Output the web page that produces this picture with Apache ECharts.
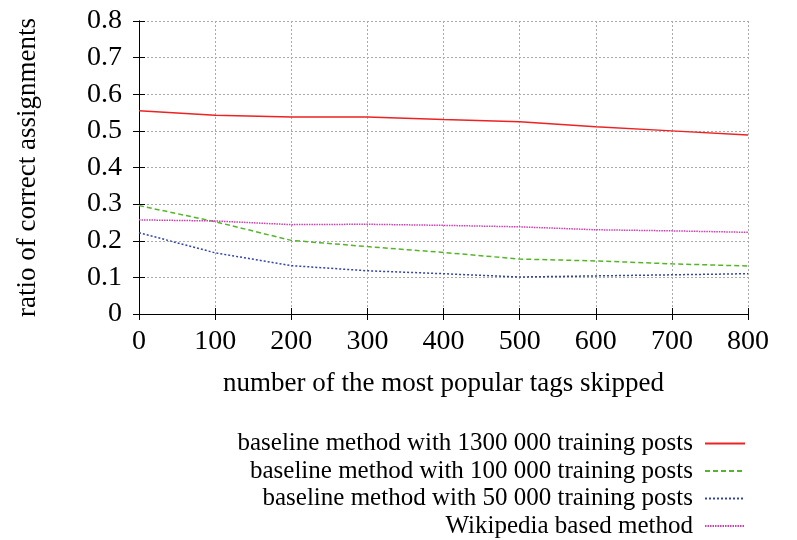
<!DOCTYPE html>
<html>
<head>
<meta charset="utf-8">
<script src="https://cdn.jsdelivr.net/npm/echarts@6/dist/echarts.min.js"></script>
<style>
  html, body { margin: 0; padding: 0; background: #fff; }
  #chart { width: 797px; height: 540px; }
</style>
</head>
<body>
<div id="chart"></div>
<script>
// tags skipped
const skipped = [0, 100, 200, 300, 400, 500, 600, 700, 800];

const baseline1300k = [0.555, 0.543, 0.538, 0.538, 0.531, 0.525, 0.511, 0.500, 0.489];
const baseline100k = [0.296, 0.252, 0.201, 0.184, 0.168, 0.150, 0.145, 0.137, 0.131];
const baseline50k = [0.222, 0.167, 0.132, 0.118, 0.110, 0.101, 0.104, 0.107, 0.110];
const wikipedia = [0.257, 0.254, 0.244, 0.245, 0.242, 0.238, 0.230, 0.227, 0.223];

const seriesNames = [
  'baseline method with 1300 000 training posts',
  'baseline method with 100 000 training posts',
  'baseline method with 50 000 training posts',
  'Wikipedia based method'
];

const font = 'Liberation Serif';
const chart = echarts.init(document.getElementById('chart'));

const pairs = (ys) => skipped.map((x, i) => [x, ys[i]]);

const mkSeries = (name, ys, color, type) => ({
  name: name,
  type: 'line',
  data: pairs(ys),
  symbol: 'none',
  xAxisIndex: 0,
  yAxisIndex: 0,
  lineStyle: { color: color, width: 1.5, type: type },
  itemStyle: { color: color },
  z: 3
});

const hiddenAxis = {
  axisLine: { show: true, lineStyle: { color: '#000', width: 1 } },
  axisTick: { show: true, inside: true, length: 6, lineStyle: { color: '#000' } },
  axisLabel: { show: false },
  splitLine: { show: false }
};

const option = {
  animation: false,
  textStyle: { fontFamily: font },
  grid: { left: 139, right: 49, top: 21, bottom: 226 },
  legend: {
    orient: 'vertical',
    align: 'right',
    right: 46,
    top: 426,
    height: 120,
    itemWidth: 40,
    itemHeight: 14,
    itemGap: 2.5,
    itemStyle: { opacity: 0 },
    data: seriesNames,
    textStyle: { fontFamily: font, fontSize: 25, color: '#000', padding: [0, 7, 0, 0] }
  },
  xAxis: [
    {
      type: 'value',
      min: 0, max: 800, interval: 100,
      name: 'number of the most popular tags skipped',
      nameLocation: 'middle',
      nameGap: 56,
      nameTextStyle: { fontFamily: font, fontSize: 27, color: '#000' },
      axisLine: { show: true, lineStyle: { color: '#000', width: 1 } },
      axisTick: { show: true, inside: true, length: 6, lineStyle: { color: '#000' } },
      axisLabel: { fontFamily: font, fontSize: 28, color: '#000', margin: 14 },
      splitLine: { show: true, lineStyle: { color: '#aaa', type: [2, 2], width: 1 } }
    },
    Object.assign({ type: 'value', position: 'top', min: 0, max: 800, interval: 100 }, hiddenAxis)
  ],
  yAxis: [
    {
      type: 'value',
      min: 0, max: 0.8, interval: 0.1,
      name: 'ratio of correct assignments',
      nameLocation: 'middle',
      nameGap: 98,
      nameTextStyle: { fontFamily: font, fontSize: 27, color: '#000' },
      axisLine: { show: true, lineStyle: { color: '#000', width: 1 } },
      axisTick: { show: true, inside: true, length: 6, lineStyle: { color: '#000' } },
      axisLabel: {
        fontFamily: font, fontSize: 28, color: '#000', margin: 17,
        formatter: (v) => (Math.round(v * 10) / 10).toString()
      },
      splitLine: { show: true, lineStyle: { color: '#aaa', type: [2, 2], width: 1 } }
    },
    Object.assign({ type: 'value', position: 'right', min: 0, max: 0.8, interval: 0.1 }, hiddenAxis)
  ],
  series: [
    mkSeries(seriesNames[0], baseline1300k, '#ee2222', 'solid'),
    mkSeries(seriesNames[1], baseline100k, '#55b52a', [5, 3]),
    mkSeries(seriesNames[2], baseline50k, '#3344aa', [2, 2]),
    mkSeries(seriesNames[3], wikipedia, '#d23cb4', [1.5, 1])
  ]
};

chart.setOption(option);
</script>
</body>
</html>
